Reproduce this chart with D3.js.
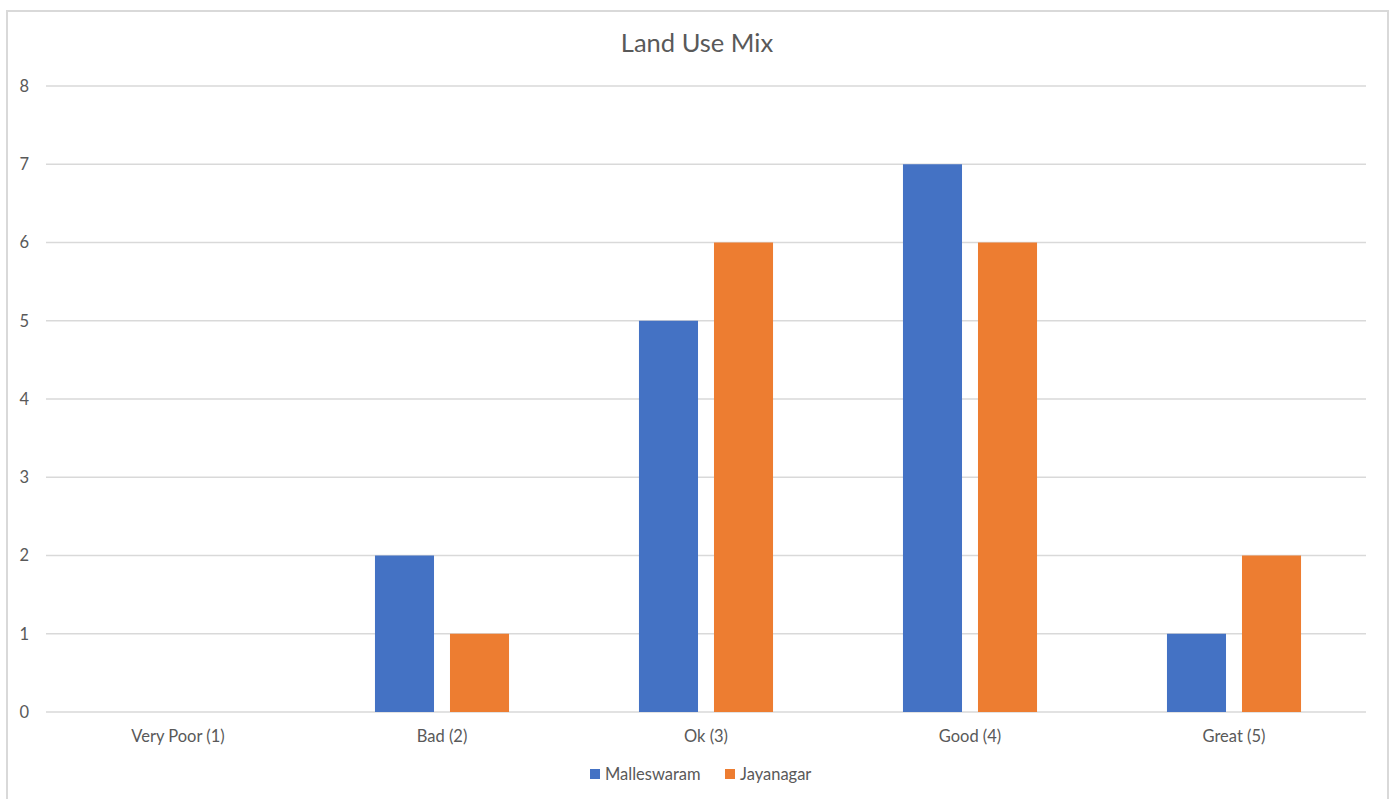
<!doctype html>
<meta charset="utf-8">
<title>Land Use Mix</title>
<style>
body { margin: 0; background: #fff; }
svg { font-family: Lato, "Open Sans", sans-serif; }
.grid line { stroke: #d9d9d9; stroke-width: 1.3; }
.lbl { fill: #595959; font-size: 16.5px; }
</style>
<script src="https://cdn.jsdelivr.net/npm/d3@7"></script>
<body>
<script>
var categories = ["Very Poor (1)", "Bad (2)", "Ok (3)", "Good (4)", "Great (5)"];
var seriesNames = ["Malleswaram", "Jayanagar"];
var malleswaram = [0, 2, 5, 7, 1];
var jayanagar = [0, 1, 6, 6, 2];
var colors = ["#4472c4", "#ed7d31"];
var yTicks = [0, 1, 2, 3, 4, 5, 6, 7, 8];

var W = 1394, H = 799;
var svg = d3.select("body").append("svg").attr("width", W).attr("height", H);

// chart frame
svg.append("rect").attr("x", 7).attr("y", 11).attr("width", 1381).attr("height", 800)
  .attr("fill", "#fff").attr("stroke", "#d9d9d9").attr("stroke-width", 2);

var plotL = 46, plotR = 1366, plotT = 86, plotB = 712;

var y = d3.scaleLinear().domain([0, 8]).range([plotB, plotT]);
var x0 = d3.scaleBand().domain(categories).range([plotL, plotR]).padding(0);
var x1 = d3.scaleBand().domain(seriesNames).range([0, x0.bandwidth()])
  .paddingInner(0.213).paddingOuter(0.866);

// gridlines
svg.append("g").attr("class", "grid")
  .selectAll("line").data(yTicks).join("line")
  .attr("x1", plotL).attr("x2", plotR)
  .attr("y1", d => y(d)).attr("y2", d => y(d));

// y labels
svg.append("g").selectAll("text").data(yTicks).join("text")
  .attr("class", "lbl")
  .attr("x", 29).attr("y", d => y(d)).attr("dy", "0.35em")
  .attr("text-anchor", "end").text(d => d);

// x labels
svg.append("g").selectAll("text").data(categories).join("text")
  .attr("class", "lbl")
  .attr("x", d => x0(d) + x0.bandwidth() / 2).attr("y", 742)
  .attr("text-anchor", "middle").text(d => d);

var rows = categories.map((c, i) => ({cat: c, vals: [malleswaram[i], jayanagar[i]]}));

svg.append("g").selectAll("g").data(rows).join("g")
  .attr("transform", d => "translate(" + x0(d.cat) + ",0)")
  .selectAll("rect").data(d => d.vals.map((v, j) => ({name: seriesNames[j], v: v, j: j})))
  .join("rect")
  .attr("x", d => x1(d.name)).attr("width", x1.bandwidth())
  .attr("y", d => y(d.v)).attr("height", d => y(0) - y(d.v))
  .attr("fill", d => colors[d.j]);

// title
svg.append("text").attr("x", 697).attr("y", 52).attr("text-anchor", "middle")
  .attr("fill", "#595959").style("font-size", "25.5px").text("Land Use Mix");

// legend
var legX = [590, 725];
var leg = svg.append("g").selectAll("g").data(seriesNames).join("g")
  .attr("transform", (d, i) => "translate(" + legX[i] + ",769)");
leg.append("rect").attr("width", 10).attr("height", 10).attr("fill", (d, i) => colors[i]);
leg.append("text").attr("class", "lbl").attr("x", 15).attr("y", 5).attr("dy", "0.35em").text(d => d);
</script>
</body>
